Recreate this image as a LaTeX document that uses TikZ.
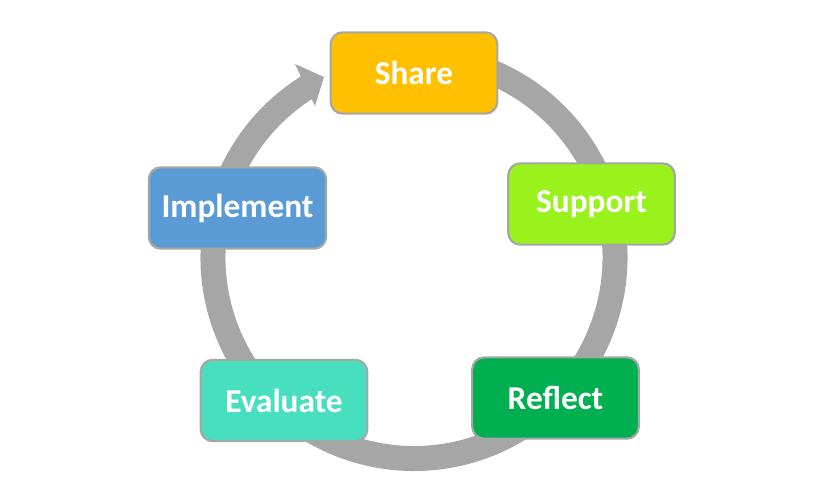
\documentclass[tikz,border=0pt]{standalone}
\usepackage{fontspec}
\setmainfont{Carlito}
\usetikzlibrary{calc}
\definecolor{ringgray}{HTML}{A6A6A6}
\definecolor{cshare}{HTML}{FFC000}
\definecolor{csupport}{HTML}{99F21B}
\definecolor{creflect}{HTML}{00B050}
\definecolor{cevaluate}{HTML}{48DFC0}
\definecolor{cimplement}{HTML}{5B9BD5}
\tikzset{
  stagebox/.style={draw=ringgray, line width=1.6pt, rounded corners=9pt,
    minimum width=125pt, minimum height=61pt, inner sep=0pt,
    text=white, font=\bfseries\fontsize{25}{30}\selectfont},
  ringline/.style={draw=ringgray, line width=18.75pt, line cap=butt},
}
\begin{document}
\begin{tikzpicture}[x=0.75pt,y=-0.75pt]
\useasboundingbox (0,0) rectangle (833,485);
\coordinate (c) at (414,257.5);
% ring (clockwise from under Share round to the arrow head)
\draw[ringline] ($(c)+(-75:201)$) arc[start angle=-75, end angle=238.5, radius=201];
\coordinate (tip) at (324,77);
\coordinate (w1) at (295,64);
\coordinate (w2) at (315,106);
\fill[ringgray] (w1) -- (tip) -- (w2) -- cycle;
% stages
\node[stagebox, fill=cshare] (share) at (414,73) {Share};
\node[stagebox, fill=csupport] (support) at (591.5,204) {Support};
\node[stagebox, fill=creflect] (reflect) at (555.5,398) {Reflect};
\node[stagebox, fill=cevaluate] (evaluate) at (284,400.5) {Evaluate};
\node[stagebox, fill=cimplement, minimum width=133pt] (implement) at (237.5,208) {Implement};
\end{tikzpicture}
\end{document}
